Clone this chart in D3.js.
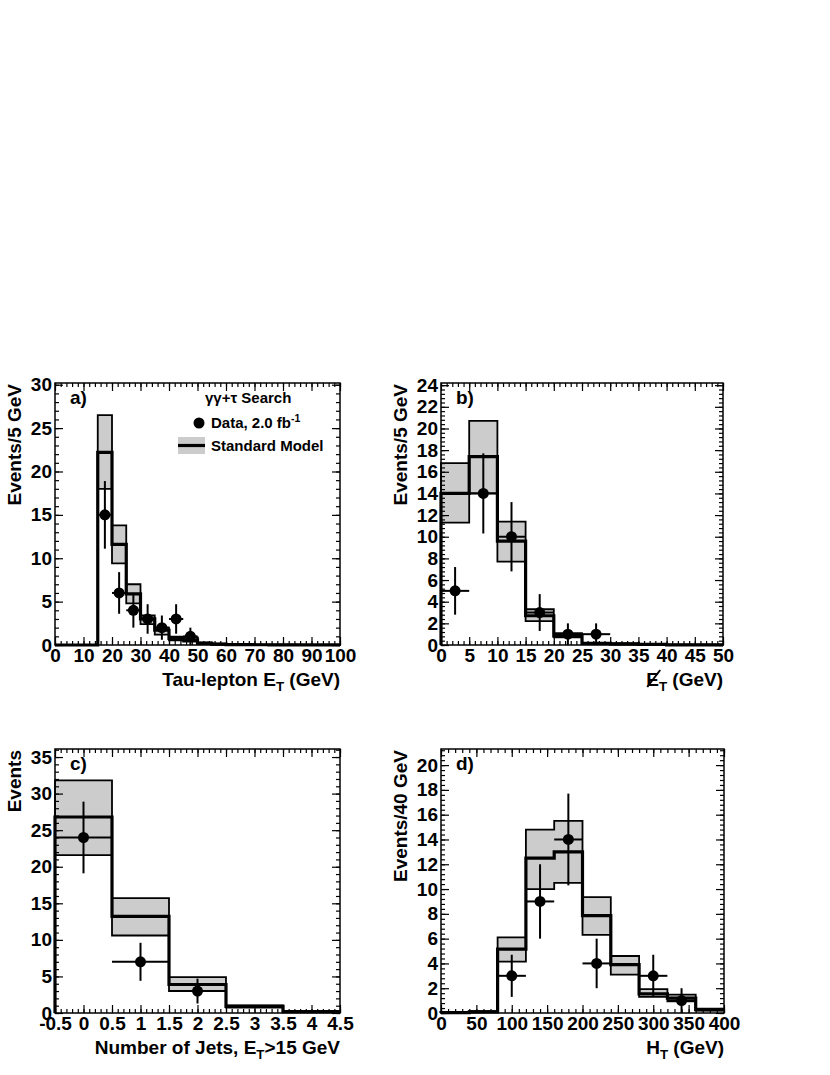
<!DOCTYPE html>
<html>
<head>
<meta charset="utf-8">
<script src="https://d3js.org/d3.v7.min.js"></script>
<style>
  body { margin: 0; background: #fff; }
  text { font-family: "Liberation Sans", Arial, Helvetica, sans-serif; font-weight: bold; fill: #000; }
</style>
</head>
<body>
<script>
// a) tau-lepton ET, 5 GeV bins
const tauEdges = [0, 5, 10, 15, 20, 25, 30, 35, 40, 45, 50, 55, 60, 65, 70, 75, 80, 85, 90, 95, 100]
const tauSM   = [0, 0, 0, 22.2, 11.6, 5.9, 3.0, 1.7, 0.75, 0.6, 0.2, 0.1, 0.05, 0.05, 0.03, 0.02, 0.02, 0.01, 0.01, 0.01]
const tauLo   = [0, 0, 0, 18.0, 9.4, 4.8, 2.4, 1.2, 0.55, 0.4, 0.1, 0.05, 0.02, 0.02, 0.01, 0.01, 0.01, 0, 0, 0]
const tauHi   = [0, 0, 0, 26.5, 13.8, 7.0, 3.4, 2.0, 0.95, 0.9, 0.3, 0.15, 0.1, 0.08, 0.05, 0.04, 0.03, 0.02, 0.02, 0.02]
const tauDataX  = [17.5, 22.5, 27.5, 32.5, 37.5, 42.5, 47.5]
const tauDataY  = [15, 6, 4, 3, 2, 3, 1]
const tauDataLo = [11.1, 3.6, 2.0, 1.3, 0.6, 1.3, 0]
const tauDataHi = [18.9, 8.4, 6.0, 4.7, 3.4, 4.7, 2.0]
const tauXTicks = [0, 10, 20, 30, 40, 50, 60, 70, 80, 90, 100]
const tauYTicks = [0, 5, 10, 15, 20, 25, 30]

// b) missing ET, 5 GeV bins
const metEdges = [0, 5, 10, 15, 20, 25, 30, 35, 40, 45, 50]
const metSM   = [14.0, 17.4, 9.6, 2.7, 0.85, 0.15, 0.1, 0.05, 0.02, 0.02]
const metLo   = [11.3, 14.0, 7.7, 2.2, 0.7, 0.1, 0.05, 0.02, 0.01, 0.01]
const metHi   = [16.8, 20.7, 11.4, 3.3, 1.1, 0.2, 0.15, 0.08, 0.04, 0.03]
const metDataX  = [2.5, 7.5, 12.5, 17.5, 22.5, 27.5]
const metDataY  = [5, 14, 10, 3, 1, 1]
const metDataLo = [2.8, 10.3, 6.8, 1.3, 0, 0]
const metDataHi = [7.2, 17.7, 13.2, 4.7, 2.0, 2.0]
const metXTicks = [0, 5, 10, 15, 20, 25, 30, 35, 40, 45, 50]
const metYTicks = [0, 2, 4, 6, 8, 10, 12, 14, 16, 18, 20, 22, 24]

// c) number of jets
const jetEdges = [-0.5, 0.5, 1.5, 2.5, 3.5, 4.5]
const jetSM   = [26.8, 13.2, 3.9, 0.9, 0.2]
const jetLo   = [21.6, 10.6, 3.0, 0.75, 0.15]
const jetHi   = [31.8, 15.7, 4.9, 1.05, 0.25]
const jetDataX  = [0, 1, 2]
const jetDataY  = [24, 7, 3]
const jetDataLo = [19.1, 4.4, 1.3]
const jetDataHi = [28.9, 9.6, 4.7]
const jetXTicks = [-0.5, 0, 0.5, 1, 1.5, 2, 2.5, 3, 3.5, 4, 4.5]
const jetYTicks = [0, 5, 10, 15, 20, 25, 30, 35]

// d) HT, 40 GeV bins
const htEdges = [0, 40, 80, 120, 160, 200, 240, 280, 320, 360, 400]
const htSM   = [0.03, 0.1, 5.15, 12.5, 13.0, 7.85, 3.9, 1.55, 1.2, 0.27]
const htLo   = [0.01, 0.05, 4.15, 10.0, 10.5, 6.3, 3.1, 1.3, 0.94, 0.2]
const htHi   = [0.05, 0.15, 6.1, 14.8, 15.5, 9.35, 4.6, 1.93, 1.48, 0.35]
const htDataX  = [100, 140, 180, 220, 300, 340]
const htDataY  = [3, 9, 14, 4, 3, 1]
const htDataLo = [1.3, 6.0, 10.3, 2.0, 1.3, 0]
const htDataHi = [4.7, 12.0, 17.7, 6.0, 4.7, 2.0]
const htXTicks = [0, 50, 100, 150, 200, 250, 300, 350, 400]
const htYTicks = [0, 2, 4, 6, 8, 10, 12, 14, 16, 18, 20]

const w = 830
const h = 1075
const bandColor = '#cccccc'

const svg = d3.select('body')
              .append('svg')
              .attr('width', w)
              .attr('height', h)

svg.append('rect').attr('width', w).attr('height', h).attr('fill', '#fff')

// text with subscript / superscript parts
const addRich = (sel, parts, size) => {
  parts.forEach(p => {
    const t = sel.append('tspan').text(p.t)
    if (p.sub) t.attr('font-size', size * 0.7).attr('dy', size * 0.28)
    else if (p.sup) t.attr('font-size', size * 0.7).attr('dy', -size * 0.4)
    else if (p.back) t.attr('dy', p.back)
  })
}

const drawPanel = p => {
  const x = d3.scaleLinear().domain([p.edges[0], p.edges[p.edges.length - 1]]).range([p.left, p.right])
  const y = d3.scaleLinear().domain([0, p.yMax]).range([p.bottom, p.top])
  const g = svg.append('g')

  const pts = p.edges.map((e, i) => ({
    x: e,
    sm: p.sm[Math.min(i, p.sm.length - 1)],
    lo: p.lo[Math.min(i, p.lo.length - 1)],
    hi: p.hi[Math.min(i, p.hi.length - 1)]
  }))

  // systematic band
  const band = d3.area()
                 .curve(d3.curveStepAfter)
                 .x(d => x(d.x))
                 .y0(d => y(d.lo))
                 .y1(d => y(d.hi))
  g.append('path')
   .datum(pts.filter(d => d.x >= p.bandStart))
   .attr('d', band)
   .attr('fill', bandColor)
   .attr('stroke', '#000')
   .attr('stroke-width', 1.8)

  // SM central value
  const line = d3.line()
                 .curve(d3.curveStepAfter)
                 .x(d => x(d.x))
                 .y(d => y(d.sm))
  g.append('path')
   .datum([{ x: p.edges[0], sm: 0 }].concat(pts))
   .attr('d', line)
   .attr('fill', 'none')
   .attr('stroke', '#000')
   .attr('stroke-width', 3.2)

  // data points
  const half = (p.edges[1] - p.edges[0]) / 2
  const data = p.dataX.map((d, i) => ({ x: d, y: p.dataY[i], lo: p.dataLo[i], hi: p.dataHi[i] }))
  const pt = g.selectAll('.pt').data(data).enter().append('g')
  pt.append('line')
    .attr('x1', d => x(d.x)).attr('x2', d => x(d.x))
    .attr('y1', d => y(d.lo)).attr('y2', d => y(d.hi))
    .attr('stroke', '#000').attr('stroke-width', 2)
  pt.append('line')
    .attr('x1', d => x(d.x - half)).attr('x2', d => x(d.x + half))
    .attr('y1', d => y(d.y)).attr('y2', d => y(d.y))
    .attr('stroke', '#000').attr('stroke-width', 2)
  pt.append('circle')
    .attr('cx', d => x(d.x)).attr('cy', d => y(d.y))
    .attr('r', 5.5).attr('fill', '#000')

  // axes, ticks inward on all sides
  const xMinor = d3.range(p.edges[0], p.edges[p.edges.length - 1] + p.xMinor / 2, p.xMinor)
  const yMinor = d3.range(0, p.yMax, p.yMinor)
  const axes = [
    [d3.axisBottom(x).tickValues(p.xTicks).tickFormat(d => String(d)), xMinor, `translate(0,${p.bottom})`],
    [d3.axisTop(x).tickValues(p.xTicks).tickFormat(''), xMinor, `translate(0,${p.top})`],
    [d3.axisLeft(y).tickValues(p.yTicks).tickFormat(d => String(d)), yMinor, `translate(${p.left},0)`],
    [d3.axisRight(y).tickValues(p.yTicks).tickFormat(''), yMinor, `translate(${p.right},0)`]
  ]
  const makeMinor = {
    0: s => d3.axisBottom(s), 1: s => d3.axisTop(s), 2: s => d3.axisLeft(s), 3: s => d3.axisRight(s)
  }
  axes.forEach(([ax, minor, tr], i) => {
    const sc = i < 2 ? x : y
    g.append('g')
     .attr('transform', tr)
     .call(makeMinor[i](sc).tickValues(minor).tickFormat('').tickSizeInner(-4).tickSizeOuter(0))
     .call(a => a.select('.domain').remove())
     .selectAll('line').attr('stroke-width', 1.2)
    g.append('g')
     .attr('transform', tr)
     .call(ax.tickSizeInner(-8).tickSizeOuter(0).tickPadding(i === 0 ? 4 : 3))
     .call(a => a.select('.domain').remove())
     .call(a => a.selectAll('line').attr('stroke-width', 1.2))
     .call(a => a.selectAll('text')
                 .attr('font-size', 19)
                 .attr('font-family', '"Liberation Sans", Arial, sans-serif')
                 .attr('font-weight', 'bold')
                 .attr('fill', '#000'))
  })

  g.append('rect')
   .attr('x', p.left).attr('y', p.top)
   .attr('width', p.right - p.left).attr('height', p.bottom - p.top)
   .attr('fill', 'none').attr('stroke', '#000').attr('stroke-width', 1.5)

  // titles
  const xt = g.append('text')
              .attr('x', p.right)
              .attr('y', p.bottom + 41)
              .attr('text-anchor', 'end')
              .attr('font-size', 19)
  addRich(xt, p.xTitle, 19)
  if (p.slashE) {
    const bb = xt.node().getBBox()
    g.append('line')
     .attr('x1', bb.x + 1).attr('y1', p.bottom + 42)
     .attr('x2', bb.x + 14).attr('y2', p.bottom + 25)
     .attr('stroke', '#000').attr('stroke-width', 2)
  }

  g.append('text')
   .attr('transform', `translate(${p.left - 34},${p.top + 1}) rotate(-90)`)
   .attr('text-anchor', 'end')
   .attr('font-size', 19)
   .text(p.yTitle)

  g.append('text')
   .attr('x', p.left + 15)
   .attr('y', p.top + 21)
   .attr('font-size', 19)
   .text(p.label)

  return { x, y, g }
}

const pa = drawPanel({
  left: 55, right: 340, top: 383, bottom: 645, yMax: 30.2,
  edges: tauEdges, sm: tauSM, lo: tauLo, hi: tauHi, bandStart: 15,
  dataX: tauDataX, dataY: tauDataY, dataLo: tauDataLo, dataHi: tauDataHi,
  xTicks: tauXTicks, yTicks: tauYTicks, xMinor: 2, yMinor: 1,
  xTitle: [{ t: 'Tau-lepton E' }, { t: 'T', sub: true }, { t: ' (GeV)', back: -19 * 0.28 }],
  yTitle: 'Events/5 GeV', label: 'a)'
})

drawPanel({
  left: 441, right: 723, top: 383, bottom: 645, yMax: 24.2,
  edges: metEdges, sm: metSM, lo: metLo, hi: metHi, bandStart: 0,
  dataX: metDataX, dataY: metDataY, dataLo: metDataLo, dataHi: metDataHi,
  xTicks: metXTicks, yTicks: metYTicks, xMinor: 1, yMinor: 0.4,
  xTitle: [{ t: 'E' }, { t: 'T', sub: true }, { t: ' (GeV)', back: -19 * 0.28 }], slashE: true,
  yTitle: 'Events/5 GeV', label: 'b)'
})

drawPanel({
  left: 55, right: 340, top: 749, bottom: 1013, yMax: 36.1,
  edges: jetEdges, sm: jetSM, lo: jetLo, hi: jetHi, bandStart: -0.5,
  dataX: jetDataX, dataY: jetDataY, dataLo: jetDataLo, dataHi: jetDataHi,
  xTicks: jetXTicks, yTicks: jetYTicks, xMinor: 0.1, yMinor: 1,
  xTitle: [{ t: 'Number of Jets, E' }, { t: 'T', sub: true }, { t: '>15 GeV', back: -19 * 0.28 }],
  yTitle: 'Events', label: 'c)'
})

drawPanel({
  left: 441, right: 724, top: 749, bottom: 1013, yMax: 21.3,
  edges: htEdges, sm: htSM, lo: htLo, hi: htHi, bandStart: 0,
  dataX: htDataX, dataY: htDataY, dataLo: htDataLo, dataHi: htDataHi,
  xTicks: htXTicks, yTicks: htYTicks, xMinor: 10, yMinor: 0.4,
  xTitle: [{ t: 'H' }, { t: 'T', sub: true }, { t: ' (GeV)', back: -19 * 0.28 }],
  yTitle: 'Events/40 GeV', label: 'd)'
})

// legend in panel a
const leg = svg.append('g')
const legText = leg.append('text').attr('x', 205).attr('y', 403).attr('font-size', 15)
legText.text('γγ+τ Search')
leg.append('circle').attr('cx', 199).attr('cy', 423).attr('r', 5.5).attr('fill', '#000')
const dataText = leg.append('text').attr('x', 211).attr('y', 428).attr('font-size', 15)
addRich(dataText, [{ t: 'Data, 2.0 fb' }, { t: '-1', sup: true }], 15)
leg.append('rect').attr('x', 178).attr('y', 437).attr('width', 27).attr('height', 17).attr('fill', bandColor)
leg.append('line').attr('x1', 178).attr('x2', 205).attr('y1', 445.5).attr('y2', 445.5)
   .attr('stroke', '#000').attr('stroke-width', 3.2)
leg.append('text').attr('x', 211).attr('y', 451).attr('font-size', 15).text('Standard Model')
</script>
</body>
</html>
